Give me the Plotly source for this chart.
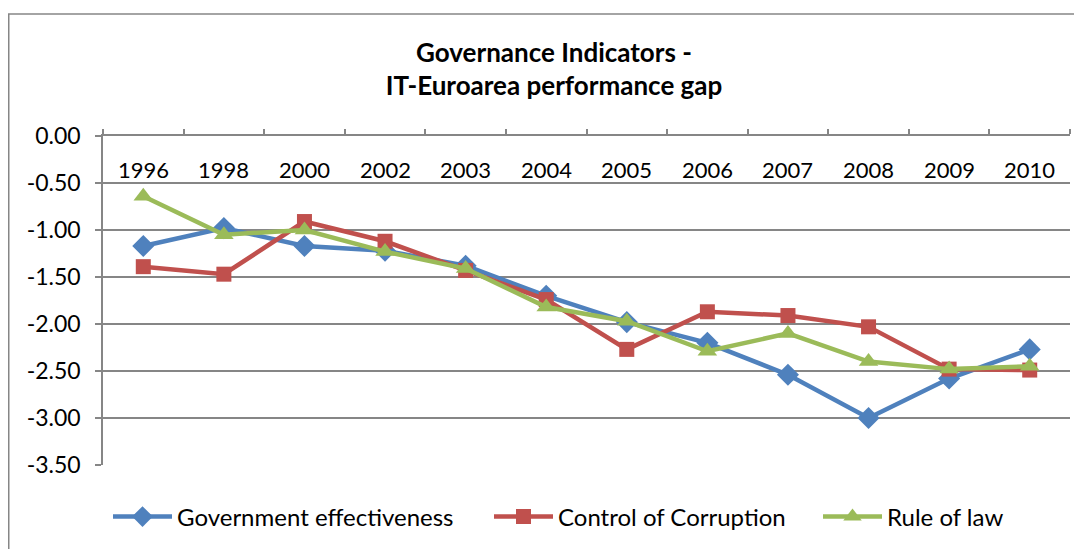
import plotly.graph_objects as go

years = ["1996", "1998", "2000", "2002", "2003", "2004", "2005", "2006", "2007", "2008", "2009", "2010"]
gov_eff = [-1.17, -0.98, -1.17, -1.22, -1.38, -1.70, -1.98, -2.20, -2.54, -3.00, -2.58, -2.27]
corruption = [-1.39, -1.47, -0.91, -1.12, -1.43, -1.74, -2.27, -1.87, -1.91, -2.03, -2.48, -2.49]
rule_law = [-0.64, -1.05, -1.00, -1.23, -1.41, -1.82, -1.97, -2.29, -2.10, -2.40, -2.48, -2.45]
y_ticks = [0.0, -0.5, -1.0, -1.5, -2.0, -2.5, -3.0, -3.5]

FONT = "Lato"
OFF = 8  # page offset of the figure (default body margin)
W, H = 1082, 549
L, R, T, B = 103 - OFF, 20, 136 - OFF, 92
PH = H - T - B
PW = W - L - R

fig = go.Figure()
series = [
    ("Government effectiveness", gov_eff, "#4F81BD", "diamond", 17, "legend", 113),
    ("Control of Corruption", corruption, "#C0504D", "square", 15, "legend2", 494),
    ("Rule of law", rule_law, "#9BBB59", "triangle-up", 17, "legend3", 823),
]
legends = {}
for name, vals, col, sym, sz, lg, lx in series:
    fig.add_trace(go.Scatter(
        x=years, y=vals, name=name, mode="lines+markers",
        line=dict(color=col, width=4.5),
        marker=dict(symbol=sym, size=sz, color=col),
        legend=lg,
    ))
    legends[lg] = dict(
        orientation="h", x=(lx - OFF - 5) / W, xanchor="left", xref="container",
        y=1 - (517 - OFF) / H, yanchor="middle", yref="container",
        font=dict(family=FONT, size=24), itemwidth=59,
        bgcolor="rgba(0,0,0,0)",
    )

# category labels sit just under the top axis line, inside the plot
for i, yr in enumerate(years):
    fig.add_annotation(x=i, xref="x", y=1 - 33 / PH, yref="paper",
                       text=yr, showarrow=False, yanchor="middle",
                       font=dict(family=FONT, size=22, color="black"))

fig.update_layout(
    width=W, height=H,
    margin=dict(l=L, r=R, t=T, b=B),
    paper_bgcolor="white", plot_bgcolor="white",
    font=dict(family=FONT, size=22, color="black"),
    title=dict(
        text="<b>Governance Indicators -<br>IT-Euroarea performance gap</b>",
        x=(554 - OFF) / W, xanchor="center", xref="container",
        y=1 - 53.5 / H, yanchor="middle", yref="container",
        font=dict(family=FONT, size=26, color="black"),
    ),
    showlegend=True,
    xaxis=dict(
        type="category", side="top", automargin=False,
        showticklabels=False,
        ticks="outside", ticklen=5, tickcolor="#868686", tickwidth=1.5,
        tickson="boundaries",
        showline=True, linecolor="#868686", linewidth=1.5,
        showgrid=False, zeroline=False,
        range=[-0.5, 11.5],
    ),
    yaxis=dict(
        range=[-3.5, 0], tickvals=y_ticks, automargin=False,
        ticktext=[f"{v:.2f}" for v in y_ticks],
        ticks="outside", ticklen=6, tickcolor="#868686", tickwidth=1.5,
        ticklabelstandoff=10,
        showline=True, linecolor="#868686", linewidth=1.5,
        showgrid=True, gridcolor="#868686", gridwidth=1.5,
        zeroline=False,
        tickfont=dict(family=FONT, size=23),
    ),
    **legends,
)

# outer chart frame
fig.add_shape(type="rect", xref="paper", yref="paper",
              x0=(0.75 - L) / PW, x1=1.05, y0=-0.4, y1=(H - B - (14 - OFF)) / PH,
              line=dict(color="#868686", width=1.5), layer="below")

fig.write_html("out.html")
